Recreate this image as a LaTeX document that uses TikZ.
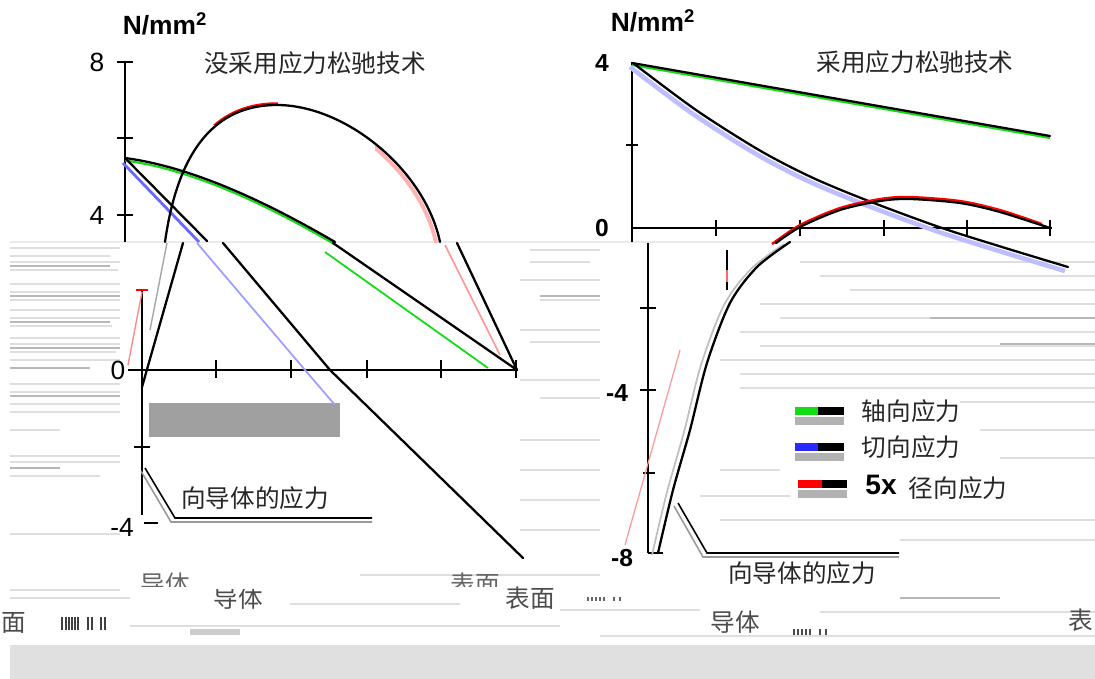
\documentclass[tikz,border=0pt]{standalone}
\usepackage{fontspec}
\setmainfont{Liberation Sans}
\newfontfamily\cjk{Noto Sans CJK SC}
\definecolor{lgreen}{RGB}{20,220,20}
\definecolor{lblue}{RGB}{40,40,255}
\definecolor{bandgray}{RGB}{224,224,224}
\definecolor{boxgray}{RGB}{160,160,160}
\begin{document}
\begin{tikzpicture}[x=0.02cm,y=-0.02cm,
  ax/.style={line width=0.9pt, black},
  crv/.style={line width=1.3pt, black, line cap=round},
  cjkt/.style={font=\cjk\fontsize{14}{16}\selectfont, text=black!85, inner sep=0pt},
  num/.style={font=\fontsize{15}{17}\selectfont, inner sep=0pt},
  bnum/.style={font=\bfseries\fontsize{14}{16}\selectfont, inner sep=0pt},
  unit/.style={font=\bfseries\fontsize{15}{17}\selectfont, inner sep=0pt},
  streak/.style={black!13, line width=0.7pt},
  dstreak/.style={black!28, line width=0.9pt},
  legbar/.style={line width=4.5pt},
  shadowbar/.style={line width=4.5pt, black!30}]
\useasboundingbox (0,0) rectangle (1095,679);
\clip (0,0) rectangle (1095,679);
\fill[white] (0,0) rectangle (1095,679);

% ---------- glitch streaks ----------
\foreach \y/\a/\b in {248/10/120, 256/10/110, 262/10/120, 270/10/118, 284/10/120, 292/10/120, 300/10/120, 310/10/120,
  318/10/120, 326/10/112, 338/10/120, 344/10/120, 352/10/116, 360/10/120, 384/10/120, 392/10/120, 404/10/120,
  412/10/120, 430/10/60, 456/10/120, 462/10/120, 476/10/100, 534/10/120, 590/10/120, 598/10/130,
  250/530/600, 262/530/590, 280/520/600, 300/540/600, 330/520/600, 342/530/600, 380/520/600, 398/540/600,
  440/520/600, 470/520/600, 500/520/600, 530/520/600,
  262/800/1095, 276/820/1095, 290/850/1095, 304/760/1095, 318/780/1095, 332/740/1095, 346/760/1095, 360/720/1095,
  374/740/1095, 388/740/1095, 402/960/1095, 430/980/1095, 458/1000/1095, 470/720/780, 496/700/790, 520/720/1095,
  540/900/1095, 575/360/600, 604/290/460, 610/560/700, 612/820/1095, 626/130/560, 636/600/1095} {
  \draw[streak] (\a,\y) -- (\b,\y);
}
\draw[black!8, line width=0.6pt] (10,242) -- (1095,242);
\foreach \y/\a/\b in {266/10/110, 296/10/120, 322/10/110, 348/10/120, 368/10/90, 396/10/120, 468/10/60, 296/540/600,
  318/930/1095, 344/1000/1095, 598/900/1000} {
  \draw[dstreak] (\a,\y) -- (\b,\y);
}
% bottom band and grey box
\fill[bandgray] (10,645) rectangle (1095,679);
\fill[boxgray] (149,403) rectangle (340,437);

% ================= LEFT CHART =================
\node[unit] (lunit) at (165,24) {N/mm\textsuperscript{2}};
\node[num] (l8) at (97,62) {8};
\node[num] (l4) at (97,215) {4};
\node[num] (l0) at (118,370) {0};
\node[num] (lm4) at (122,527) {-4};
\node[cjkt] (ltitle) at (315,63) {没采用应力松驰技术};

% axes
\draw[ax] (125,62) -- (125,242);
\foreach \y in {62,138,215} \draw[ax] (117,\y) -- (133,\y);
\draw[ax] (142,290) -- (142,515);
\draw[red, line width=0.9pt] (136,290) -- (148,290);
\draw[red!45, line width=0.8pt] (142,292) -- (128,365);
\draw[ax] (134,447) -- (150,447);
\draw[ax] (144,523) -- (158,523);
\draw[ax] (128,370) -- (517,370);
\foreach \x in {216,291,367,441,516} \draw[ax] (\x,360) -- (\x,378);

% axial (green)
\draw[lgreen, line width=1.2pt, shift={(0,2.5)}] (125,158) .. controls (200,168) and (280,210) .. (335,242);
\draw[crv] (125,158) .. controls (200,168) and (280,210) .. (335,242);
\draw[lgreen, line width=1pt] (325,252) -- (488,368);
\draw[crv] (333,243) -- (517,370);

% tangential (blue)
\draw[lblue!70, line width=1.6pt] (123,163) -- (199,242);
\draw[crv] (125,158) -- (207,241);
\draw[lblue!45, line width=1pt] (197,243) -- (305,370) -- (335,405);
\draw[crv] (223,243) -- (330,370) -- (523,558);

% radial (red)
\begin{scope}
  \clip (375,140) rectangle (445,242);
  \draw[red!30, line width=2.2pt, shift={(-4,1)}] (275,105) .. controls (345,104) and (425,170) .. (440,242);
\end{scope}
\begin{scope}
  \clip (212,90) rectangle (278,125);
  \draw[red, line width=1.4pt, shift={(0,-1.5)}] (165,242) .. controls (178,150) and (215,106) .. (275,105) -- (280,105);
\end{scope}
\draw[crv] (165,242) .. controls (178,150) and (215,106) .. (275,105) .. controls (345,104) and (425,170) .. (440,242);
\draw[black!35, line width=0.8pt] (167,243) -- (150,330);
\draw[crv] (183,243) -- (142,387);
\draw[red!40, line width=1pt] (445,245) -- (500,355);
\draw[crv] (457,243) -- (517,370);

% annotation
\draw[black!40, line width=0.9pt] (141,471) -- (171,522) -- (372,522);
\draw[line width=0.9pt] (145,468) -- (175,518) -- (372,518);
\node[cjkt] (lann) at (255,498) {向导体的应力};

% bottom labels
\begin{scope}
  \clip (130,570) rectangle (210,586);
  \node[cjkt, text=black!60] (lgc) at (165,584) {导体};
\end{scope}
\begin{scope}
  \clip (200,589) rectangle (280,615);
  \node[cjkt, text=black!70] (lc) at (238,598) {导体};
\end{scope}
\begin{scope}
  \clip (440,570) rectangle (510,586);
  \node[cjkt, text=black!60] (lgs) at (475,584) {表面};
\end{scope}
\node[cjkt, text=black!70] (ls) at (530,598) {表面};
\node[cjkt, text=black!70] (lface) at (14,623) {面};
\foreach \x in {62,66,69,72,75,78,88,92,101,105} \draw[black!75, line width=1.1pt] (\x,617) -- (\x,630);
\draw[black!20, line width=3pt] (190,632) -- (240,632);

% ================= RIGHT CHART =================
\node[unit] (runit) at (653,21) {N/mm\textsuperscript{2}};
\node[bnum] (r4) at (602,63) {4};
\node[bnum] (r0) at (602,228) {0};
\node[bnum] (rm4) at (617,393) {-4};
\node[bnum] (rm8) at (622,558) {-8};
\node[cjkt] (rtitle) at (915,62) {采用应力松驰技术};

% axes
\draw[ax] (632,62) -- (632,242);
\draw[ax] (626,145) -- (638,145);
\draw[ax] (632,228) -- (1052,228);
\foreach \x in {716,800,884,967,1050} \draw[ax] (\x,220) -- (\x,236);
\draw[ax] (648,243) -- (648,553);
\draw[ax] (640,308) -- (656,308);
\draw[ax] (640,390) -- (656,390);
\draw[ax] (643,473) -- (655,473);
\draw[ax] (648,553) -- (663,553);
\draw[ax] (727,250) -- (727,290);
\draw[red!60, line width=0.9pt] (727,270) -- (727,282);
\draw[red!40, line width=0.7pt] (680,350) -- (625,545);

% axial (green)
\draw[lgreen, line width=1.2pt, shift={(0,2)}] (632,63) -- (1050,136);
\draw[crv] (632,63) -- (1050,136);

% tangential (blue)
\draw[lblue!30, line width=2.6pt, shift={(-3,4)}] plot[smooth] coordinates {(633,63) (696,110) (759,150) (811,177) (866,200) (939,227) (1002,247) (1068,267)};
\draw[crv] plot[smooth] coordinates {(633,63) (696,110) (759,150) (811,177) (866,200) (939,227) (1002,247) (1068,267)};

% radial (red)
\draw[red, line width=1.3pt, shift={(0,-2)}] plot[smooth] coordinates {(772,246) (800,227) (840,210) (880,201) (910,199) (960,203) (1000,212) (1042,226)};
\draw[crv] plot[smooth] coordinates {(776,243) (800,227) (840,210) (880,201) (910,199) (960,203) (1000,212) (1050,228)};
\draw[black!25, line width=1pt, shift={(-6,2)}] plot[smooth] coordinates {(658,553) (673,490) (690,430) (707,363) (730,303) (757,267) (790,242)};
\draw[crv] plot[smooth] coordinates {(658,553) (673,490) (690,430) (707,363) (730,303) (757,267) (790,242)};

% legend
\draw[shadowbar] (795,421) -- (844,421);
\draw[legbar, lgreen] (795,411) -- (818,411);
\draw[legbar, black] (818,411) -- (844,411);
\node[cjkt] (lg1) at (911,411) {轴向应力};
\draw[shadowbar] (795,457) -- (844,457);
\draw[legbar, lblue] (795,447) -- (818,447);
\draw[legbar, black] (818,447) -- (844,447);
\node[cjkt] (lg2) at (911,447) {切向应力};
\draw[shadowbar] (798,494) -- (847,494);
\draw[legbar, red] (798,484) -- (822,484);
\draw[legbar, black] (822,484) -- (847,484);
\node[font=\bfseries\fontsize{16}{18}\selectfont, inner sep=0pt] (lg5x) at (881,485) {5x};
\node[cjkt] (lg3) at (958,488) {径向应力};

% annotation
\draw[black!40, line width=0.9pt] (674,506) -- (703,557) -- (899,557);
\draw[line width=0.9pt] (678,503) -- (707,553) -- (899,553);
\node[cjkt] (rann) at (802,573) {向导体的应力};

% bottom labels
\node[cjkt, text=black!70] (rc) at (735,622) {导体};
\node[cjkt, text=black!70] (rs) at (1081,620) {表};
\foreach \x in {794,798,802,806,810,820,826} \draw[black!70, line width=1pt] (\x,629) -- (\x,635);
\foreach \x in {588,592,596,600,604,614,620} \draw[black!60, line width=1pt] (\x,597) -- (\x,601);
\end{tikzpicture}
\end{document}
